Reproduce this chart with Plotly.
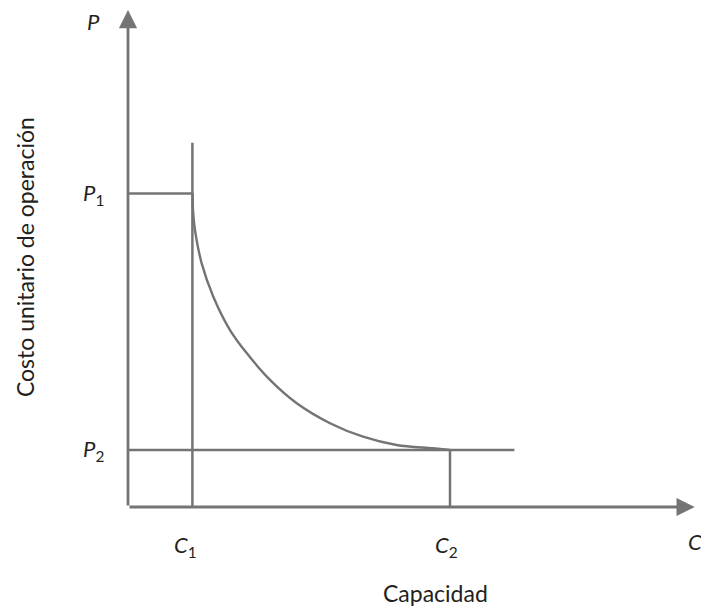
import plotly.graph_objects as go

# Key levels (data units)
C1 = 1.0
C2 = 5.0
P1 = 5.5
P2 = 1.0
C1_line_top = 6.39
P2_line_end = 6.0
x_axis_end = 8.80
y_axis_end = 8.72

# Curve (capacity, unit cost)
curve_x = [1.005, 1.01, 1.04, 1.144, 1.325, 1.584, 1.843, 2.205, 2.62, 3.137, 3.65, 4.17, 4.736, 5.0]
curve_y = [5.50, 5.19, 4.86, 4.275, 3.69, 3.105, 2.70, 2.23, 1.82, 1.47, 1.233, 1.088, 1.03, 1.0]

GRAY = "#747474"
TXT = "#231f20"
FONT = "Lato"

fig = go.Figure()

def seg(xs, ys, w=2.5):
    fig.add_trace(go.Scatter(x=xs, y=ys, mode="lines",
                             line=dict(color=GRAY, width=w),
                             hoverinfo="skip", showlegend=False))

seg([C1, C1], [0, C1_line_top])
seg([0, C1], [P1, P1])
seg([0, P2_line_end], [P2, P2])
seg([C2, C2], [0, P2])
fig.add_trace(go.Scatter(x=curve_x, y=curve_y, mode="lines",
                         line=dict(color=GRAY, width=2.4, shape="spline", smoothing=1.0),
                         hoverinfo="skip", showlegend=False))

# Axes with arrows
for (x0, y0, x1, y1) in [(0, 0, x_axis_end, 0), (0, 0, 0, y_axis_end)]:
    fig.add_annotation(x=x1, y=y1, ax=x0, ay=y0, xref="x", yref="y", axref="x", ayref="y",
                       showarrow=True, arrowhead=2, arrowsize=1.3, arrowwidth=2.8,
                       arrowcolor=GRAY, text="")

lab = dict(family=FONT, size=22, color=TXT)
labels = [
    ("<i>P</i>", -0.54, 8.52),
    ("<i>P</i><sub>1</sub>", -0.54, P1),
    ("<i>P</i><sub>2</sub>", -0.54, P2),
    ("<i>C</i><sub>1</sub>", C1 - 0.1, -0.68),
    ("<i>C</i><sub>2</sub>", C2 - 0.05, -0.68),
    ("<i>C</i>", 8.8, -0.6),
]
for t, x, y in labels:
    fig.add_annotation(x=x, y=y, xref="x", yref="y", text=t, showarrow=False, font=lab)

fig.add_annotation(x=4.78, y=-1.5, xref="x", yref="y", text="Capacidad", showarrow=False,
                   font=dict(family=FONT, size=23, color=TXT))
fig.add_annotation(x=-1.61, y=4.39, xref="x", yref="y", text="Costo unitario de operación",
                   showarrow=False, textangle=-90,
                   font=dict(family=FONT, size=23, color=TXT))

fig.update_layout(
    width=701, height=612,
    margin=dict(l=0, r=0, t=0, b=0),
    paper_bgcolor="white", plot_bgcolor="white",
    xaxis=dict(range=[-128 / 64.4, 573 / 64.4], visible=False, fixedrange=True),
    yaxis=dict(range=[-105 / 57, 507 / 57], visible=False, fixedrange=True),
)

fig.write_html("out.html", config={"displayModeBar": False},
               post_script="document.body.style.margin='0';document.body.style.overflow='hidden';")
